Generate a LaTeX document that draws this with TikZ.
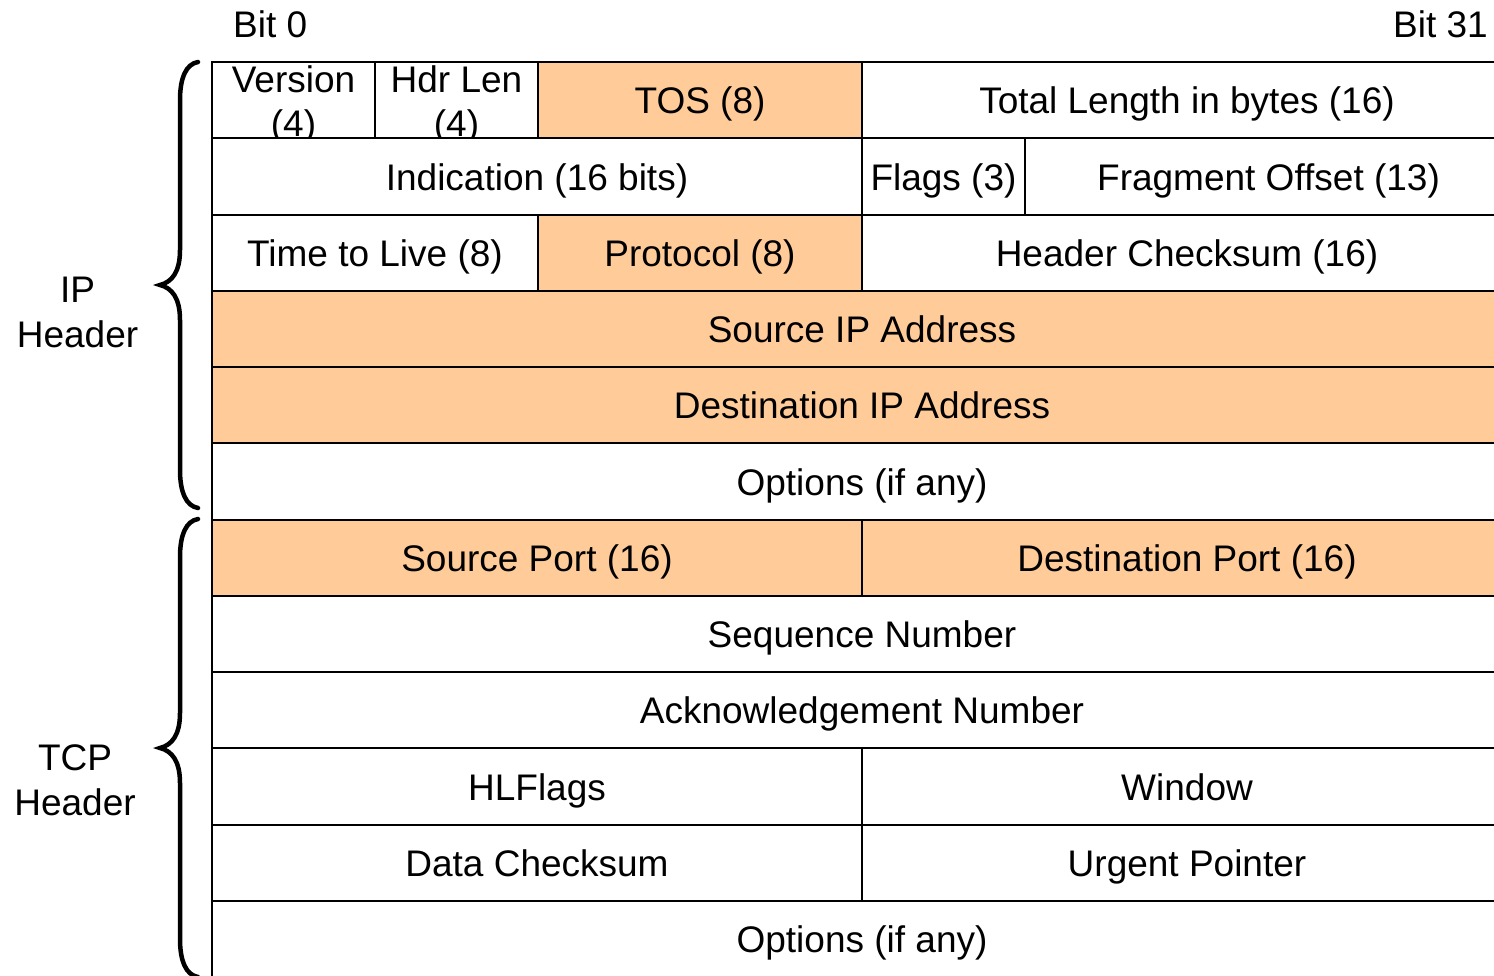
\documentclass[tikz,border=0pt]{standalone}
\usepackage{fontspec}
\setmainfont{Liberation Sans}
\definecolor{hdrorange}{HTML}{FFCC99}
\newcommand\mkcell[6]{%
  \node[cellbox,#5,minimum width={(#3-#2)*1pt}] (#1) at ({(#2+#3)/2},{#4+38.125}) {#6};}
\begin{document}
\begin{tikzpicture}[x=1pt,y=-1pt,
  cellbox/.style={draw=black, line width=2pt, fill=white, minimum height=76.25pt,
    inner sep=0pt, text height=27.5pt, text depth=0pt, font=\fontsize{37}{44}\selectfont},
  plain/.style={fill=white},
  hl/.style={fill=hdrorange},
  lbl/.style={inner sep=0pt, font=\fontsize{37}{44}\selectfont},
  bracepath/.style={line width=4.5pt, line cap=round}]
\useasboundingbox (0,0) rectangle (1494,975);
\clip (0,0) rectangle (1494,975);

% labels on top
\node[lbl, anchor=base west] (bit0) at (233,37) {Bit 0};
\node[lbl, anchor=base east] (bit31) at (1488,37) {Bit 31};

% row 0
\mkcell{ver}{212}{375}{62}{plain}{}
\mkcell{hlen}{375}{538}{62}{plain}{}
\mkcell{tos}{538}{862}{62}{hl}{TOS (8)}
\mkcell{tlen}{862}{1512}{62}{plain}{Total Length in bytes (16)}
\node[lbl, anchor=base] (vert1) at (293.5,92) {Version};
\node[lbl, anchor=base] (vert2) at (293.5,136.5) {(4)};
\node[lbl, anchor=base] (hlent1) at (456.5,92) {Hdr Len};
\node[lbl, anchor=base] (hlent2) at (456.5,136.5) {(4)};

% row 1
\mkcell{ind}{212}{862}{138.25}{plain}{Indication (16 bits)}
\mkcell{flags}{862}{1025}{138.25}{plain}{Flags (3)}
\mkcell{frag}{1025}{1512}{138.25}{plain}{Fragment Offset (13)}
% row 2
\mkcell{ttl}{212}{538}{214.5}{plain}{Time to Live (8)}
\mkcell{proto}{538}{862}{214.5}{hl}{Protocol (8)}
\mkcell{hcs}{862}{1512}{214.5}{plain}{Header Checksum (16)}
% rows 3-5
\mkcell{srcip}{212}{1512}{290.75}{hl}{Source IP Address}
\mkcell{dstip}{212}{1512}{367}{hl}{Destination IP Address}
\mkcell{ipopt}{212}{1512}{443.25}{plain}{Options (if any)}
% TCP
\mkcell{sport}{212}{862}{519.5}{hl}{Source Port (16)}
\mkcell{dport}{862}{1512}{519.5}{hl}{Destination Port (16)}
\mkcell{seq}{212}{1512}{595.75}{plain}{Sequence Number}
\mkcell{ack}{212}{1512}{672}{plain}{Acknowledgement Number}
\mkcell{hlf}{212}{862}{748.25}{plain}{HLFlags}
\mkcell{win}{862}{1512}{748.25}{plain}{Window}
\mkcell{dcs}{212}{862}{824.5}{plain}{Data Checksum}
\mkcell{urg}{862}{1512}{824.5}{plain}{Urgent Pointer}
\mkcell{tcpopt}{212}{1512}{900.75}{plain}{Options (if any)}

% braces
\draw[bracepath] (198,62) .. controls (186,64) and (180,78) .. (180,100) -- (180,250)
  .. controls (180,272) and (172,282) .. (160,285)
  .. controls (172,288) and (180,298) .. (180,320) -- (180,470)
  .. controls (180,492) and (186,506) .. (198,508);
\draw[bracepath] (198,519) .. controls (186,521) and (180,535) .. (180,557) -- (180,713)
  .. controls (180,735) and (172,745) .. (160,748)
  .. controls (172,751) and (180,761) .. (180,783) -- (180,939)
  .. controls (180,961) and (186,975) .. (198,977);

\node[lbl, anchor=base] (ip1) at (77.5,302.7) {IP};
\node[lbl, anchor=base] (ip2) at (77.5,347) {Header};
\node[lbl, anchor=base] (tcp1) at (75,770.7) {TCP};
\node[lbl, anchor=base] (tcp2) at (75,815) {Header};
\end{tikzpicture}
\end{document}
